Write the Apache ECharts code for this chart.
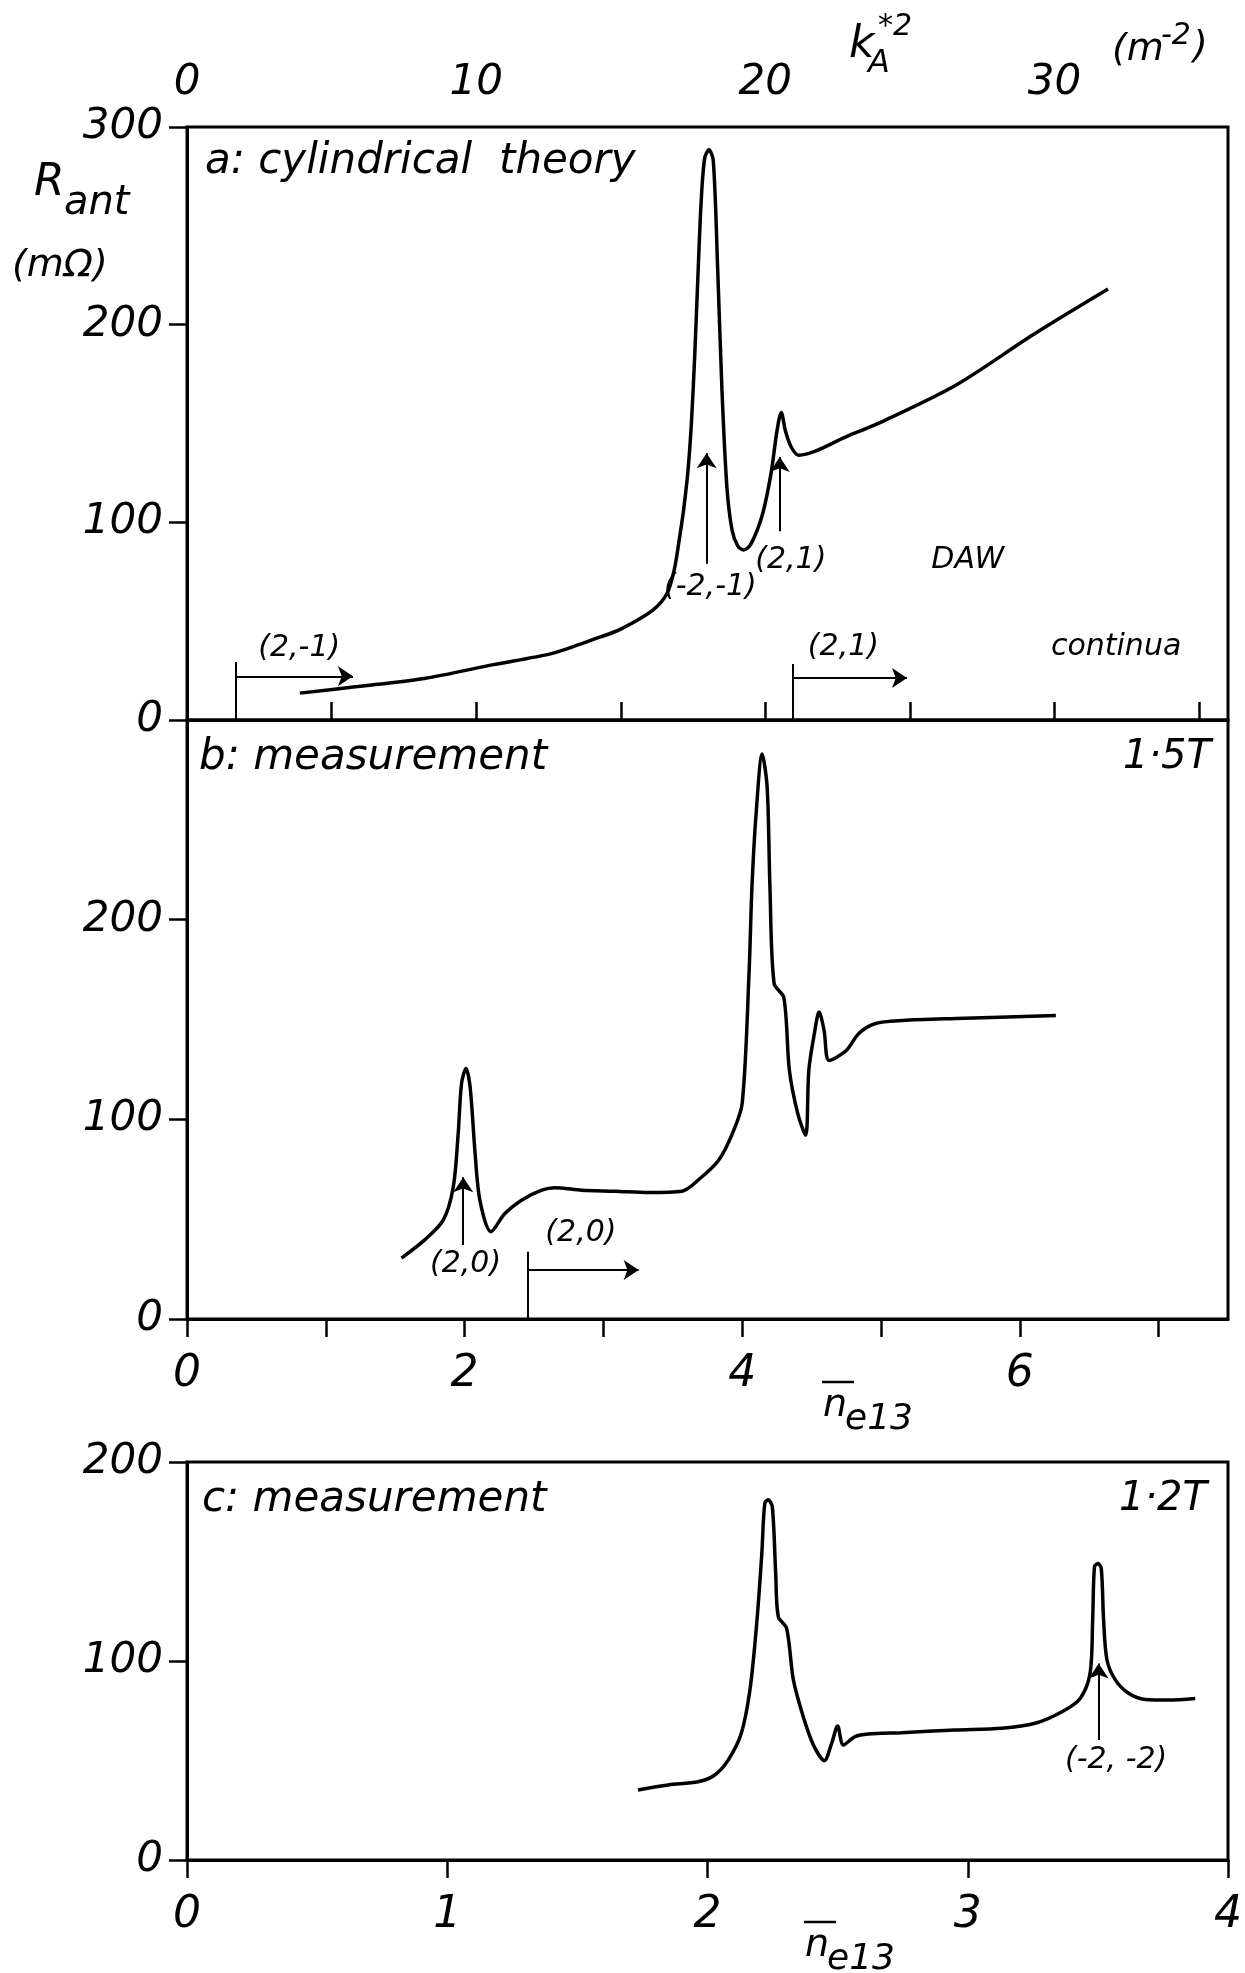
<!DOCTYPE html>
<html>
<head>
<meta charset="utf-8">
<script src="https://cdn.jsdelivr.net/npm/echarts@6/dist/echarts.min.js"></script>
<style>
  html, body { margin: 0; padding: 0; background: #fff; }
  #chart { width: 1245px; height: 1973px; }
</style>
</head>
<body>
<div id="chart"></div>
<script>
// tick values
const kTicks = [0, 5, 10, 15, 20, 25, 30, 35];
const kLabels = [0, 10, 20, 30];
const nTicksB = [0, 1, 2, 3, 4, 5, 6, 7];
const nLabelsB = [0, 2, 4, 6];
const nTicksC = [0, 1, 2, 3, 4];
const rTicksAB = [0, 100, 200, 300];
const rLabelsB = [0, 100, 200];
const rTicksC = [0, 100, 200];

// a: cylindrical theory  (k*A^2 in m^-2, R in mOhm)
const theoryK = [3.9, 5.9, 8.2, 10.6, 12.6, 13.6, 14.3, 15.0, 16.1, 16.6, 16.85, 17.02, 17.18, 17.33, 17.45, 17.56, 17.67, 17.78, 17.9, 18.05, 18.2, 18.35, 18.5, 18.67, 18.85, 19.05, 19.25, 19.5, 19.9, 20.2, 20.4, 20.55, 20.7, 20.9, 21.15, 22.9, 24.0, 26.6, 29.27, 31.85];
const theoryR = [13.6, 16.9, 21, 28, 33.6, 38.4, 42, 46, 55.5, 64, 76, 91, 107, 127, 152, 185, 225, 262, 284, 288.5, 283, 229, 167, 118, 96, 88, 86, 89, 104, 125, 146, 155.6, 146, 138, 134, 144, 150.7, 169.5, 195, 218];

// b: measurement 1.5 T
const meas15N = [1.545, 1.71, 1.846, 1.918, 1.954, 1.978, 2.01, 2.04, 2.074, 2.11, 2.19, 2.29, 2.41, 2.556, 2.65, 2.845, 3.085, 3.33, 3.567, 3.7, 3.83, 3.93, 4.0, 4.05, 4.07, 4.10, 4.144, 4.18, 4.2, 4.23, 4.30, 4.34, 4.40, 4.457, 4.48, 4.52, 4.554, 4.59, 4.626, 4.75, 4.84, 4.96, 5.155, 5.54, 6.26];
const meas15R = [30.5, 39.5, 49.5, 66, 93, 118, 125.5, 116, 84.5, 59.5, 43.7, 52.8, 59.5, 64.5, 65.7, 64.5, 64, 63.3, 64, 70.6, 79.5, 93, 108, 174.5, 216, 253, 283, 266, 216, 168, 161, 124.5, 103, 92, 124.5, 143, 153.7, 144.5, 129.5, 134.5, 143, 148, 149.5, 150.5, 152];

// c: measurement 1.2 T
const meas12N = [1.733, 1.849, 1.964, 2.028, 2.08, 2.13, 2.163, 2.188, 2.208, 2.22, 2.233, 2.249, 2.262, 2.272, 2.304, 2.33, 2.368, 2.407, 2.449, 2.477, 2.5, 2.522, 2.567, 2.618, 2.746, 2.95, 3.131, 3.259, 3.362, 3.432, 3.47, 3.48, 3.487, 3.5, 3.513, 3.522, 3.535, 3.567, 3.618, 3.682, 3.772, 3.874];
const meas12R = [35.2, 37.7, 39.3, 42.7, 50.3, 63.7, 85.4, 117.2, 152.4, 179.2, 181, 177.5, 144, 122.3, 116.4, 90.5, 72, 57.8, 49.9, 58.6, 67.3, 57.8, 62, 63.3, 64, 65.3, 66.2, 68.7, 74.5, 81.2, 93.8, 120.6, 147.4, 149, 146.6, 120.6, 100.5, 90.5, 83.8, 80.7, 80.4, 81.2];

// annotations: segments [x1, y1, x2, y2], arrows [x1, y1, x2, y2], labels [x, y, text]
const segA = [[1.7, 0, 1.7, 29.4], [20.95, 0, 20.95, 28.3]];
const arrowA = [[1.7, 22.1, 5.74, 22.1], [20.95, 21.2, 24.9, 21.2], [17.97, 79, 17.97, 135], [20.5, 95.5, 20.5, 133]];
const labelA = [[3.88, 36.4, '(2,-1)'], [22.7, 36.9, '(2,1)'], [18.1, 67.2, '(-2,-1)'], [20.88, 80.8, '(2,1)'], [27.0, 80.8, 'DAW'], [32.13, 36.9, 'continua']];
const segB = [[2.453, 0, 2.453, 33.7]];
const arrowB = [[2.453, 24.5, 3.254, 24.5], [1.99, 37, 1.99, 71]];
const labelB = [[2.007, 27.5, '(2,0)'], [2.838, 43, '(2,0)']];
const arrowC = [[3.503, 60.3, 3.503, 98.8]];
const labelC = [[3.57, 50.3, '(-2, -2)']];

const FONT = 'DejaVu Sans';
const chart = echarts.init(document.getElementById('chart'));

function zip(xs, ys) {
  return xs.map((x, i) => [x, ys[i]]);
}

function curve(idx, xs, ys) {
  return {
    type: 'line', xAxisIndex: idx, yAxisIndex: idx,
    data: zip(xs, ys), showSymbol: false, smooth: 0.3,
    lineStyle: { color: '#000', width: 3.5 }, silent: true, animation: false
  };
}

function segs(idx, list, arrow) {
  return {
    type: 'lines', coordinateSystem: 'cartesian2d', xAxisIndex: idx, yAxisIndex: idx,
    data: list.map(s => ({ coords: [[s[0], s[1]], [s[2], s[3]]] })),
    symbol: arrow ? ['none', 'arrow'] : ['none', 'none'],
    symbolSize: 15,
    lineStyle: { color: '#000', width: 2, opacity: 1 },
    silent: true, animation: false
  };
}

function labels(idx, list) {
  return {
    type: 'scatter', xAxisIndex: idx, yAxisIndex: idx, symbolSize: 0,
    itemStyle: { color: '#000', opacity: 1 },
    data: list.map(l => ({
      value: [l[0], l[1]],
      label: { show: true, position: 'inside', formatter: l[2], color: '#000', opacity: 1, fontFamily: FONT, fontStyle: 'italic', fontSize: 30 }
    })),
    silent: true, animation: false
  };
}

function xAx(idx, pos, max, ticks, labs, fs, margin) {
  return {
    type: 'value', gridIndex: idx, position: pos, min: 0, max: max,
    axisLine: { show: true, lineStyle: { color: '#000', width: 3 } },
    axisTick: { show: true, length: 18, customValues: ticks, lineStyle: { color: '#000', width: 2.5 } },
    axisLabel: { customValues: labs, margin: margin, color: '#000', fontFamily: FONT, fontStyle: 'italic', fontSize: fs },
    splitLine: { show: false }
  };
}

function yAx(idx, max, ticks, labs) {
  return {
    type: 'value', gridIndex: idx, min: 0, max: max,
    axisLine: { show: true, lineStyle: { color: '#000', width: 3 } },
    axisTick: { show: true, length: 18, customValues: ticks, lineStyle: { color: '#000', width: 2.5 } },
    axisLabel: { customValues: labs, margin: 24, color: '#000', fontFamily: FONT, fontStyle: 'italic', fontSize: 42 },
    splitLine: { show: false }
  };
}

function text(x, y, str, size, align) {
  return {
    type: 'text', x: x, y: y, silent: true,
    style: {
      text: str, fill: '#000', fontFamily: FONT, fontStyle: 'italic', fontSize: size,
      textAlign: align || 'left', textVerticalAlign: 'middle', align: align || 'left', verticalAlign: 'middle'
    }
  };
}

function nLabel(x, y) {
  // n-bar e13 axis name; (x, y) = left end of the overline
  return [
    { type: 'line', silent: true, shape: { x1: x, y1: y, x2: x + 32, y2: y }, style: { stroke: '#000', lineWidth: 2.5 } },
    text(x + 1, y + 24, 'n', 38),
    text(x + 23, y + 38, 'e13', 36)
  ];
}

const border = { show: true, borderColor: '#000', borderWidth: 3, backgroundColor: 'transparent' };

chart.setOption({
  backgroundColor: '#fff',
  animation: false,
  grid: [
    Object.assign({ left: 187, right: 17, top: 127, height: 593, containLabel: false, outerBoundsMode: 'none' }, border),
    Object.assign({ left: 187, right: 17, top: 720, height: 599, containLabel: false, outerBoundsMode: 'none' }, border),
    Object.assign({ left: 187, right: 17, top: 1462, height: 398, containLabel: false, outerBoundsMode: 'none' }, border)
  ],
  xAxis: [
    xAx(0, 'top', 36, kTicks, kLabels, 42, 23),
    xAx(1, 'bottom', 7.5, nTicksB, nLabelsB, 44, 34),
    xAx(2, 'bottom', 4, nTicksC, nTicksC, 44, 34)
  ],
  yAxis: [
    yAx(0, 300, rTicksAB, rTicksAB),
    yAx(1, 300, rTicksAB, rLabelsB),
    yAx(2, 200, rTicksC, rTicksC)
  ],
  graphic: [
    text(205, 162, 'a: cylindrical  theory', 42),
    text(199, 758, 'b: measurement', 42),
    text(1211, 758, '1·5T', 40, 'right'),
    text(202, 1500, 'c: measurement', 42),
    text(1207, 1500, '1·2T', 40, 'right'),
    text(34, 184, 'R', 44),
    text(64, 204, 'ant', 40),
    text(12, 266, '(mΩ)', 38),
    text(849, 46, 'k', 44),
    text(868, 64, 'A', 32),
    text(878, 27, '*2', 30),
    text(1112, 50, '(m', 38),
    text(1161, 36, '-2', 30),
    text(1193, 47, ')', 38)
  ].concat(nLabel(822, 1382), nLabel(804, 1922)),
  series: [
    curve(0, theoryK, theoryR),
    curve(1, meas15N, meas15R),
    curve(2, meas12N, meas12R),
    segs(0, segA, false),
    segs(0, arrowA, true),
    segs(1, segB, false),
    segs(1, arrowB, true),
    segs(2, arrowC, true),
    labels(0, labelA),
    labels(1, labelB),
    labels(2, labelC)
  ]
});
</script>
</body>
</html>
